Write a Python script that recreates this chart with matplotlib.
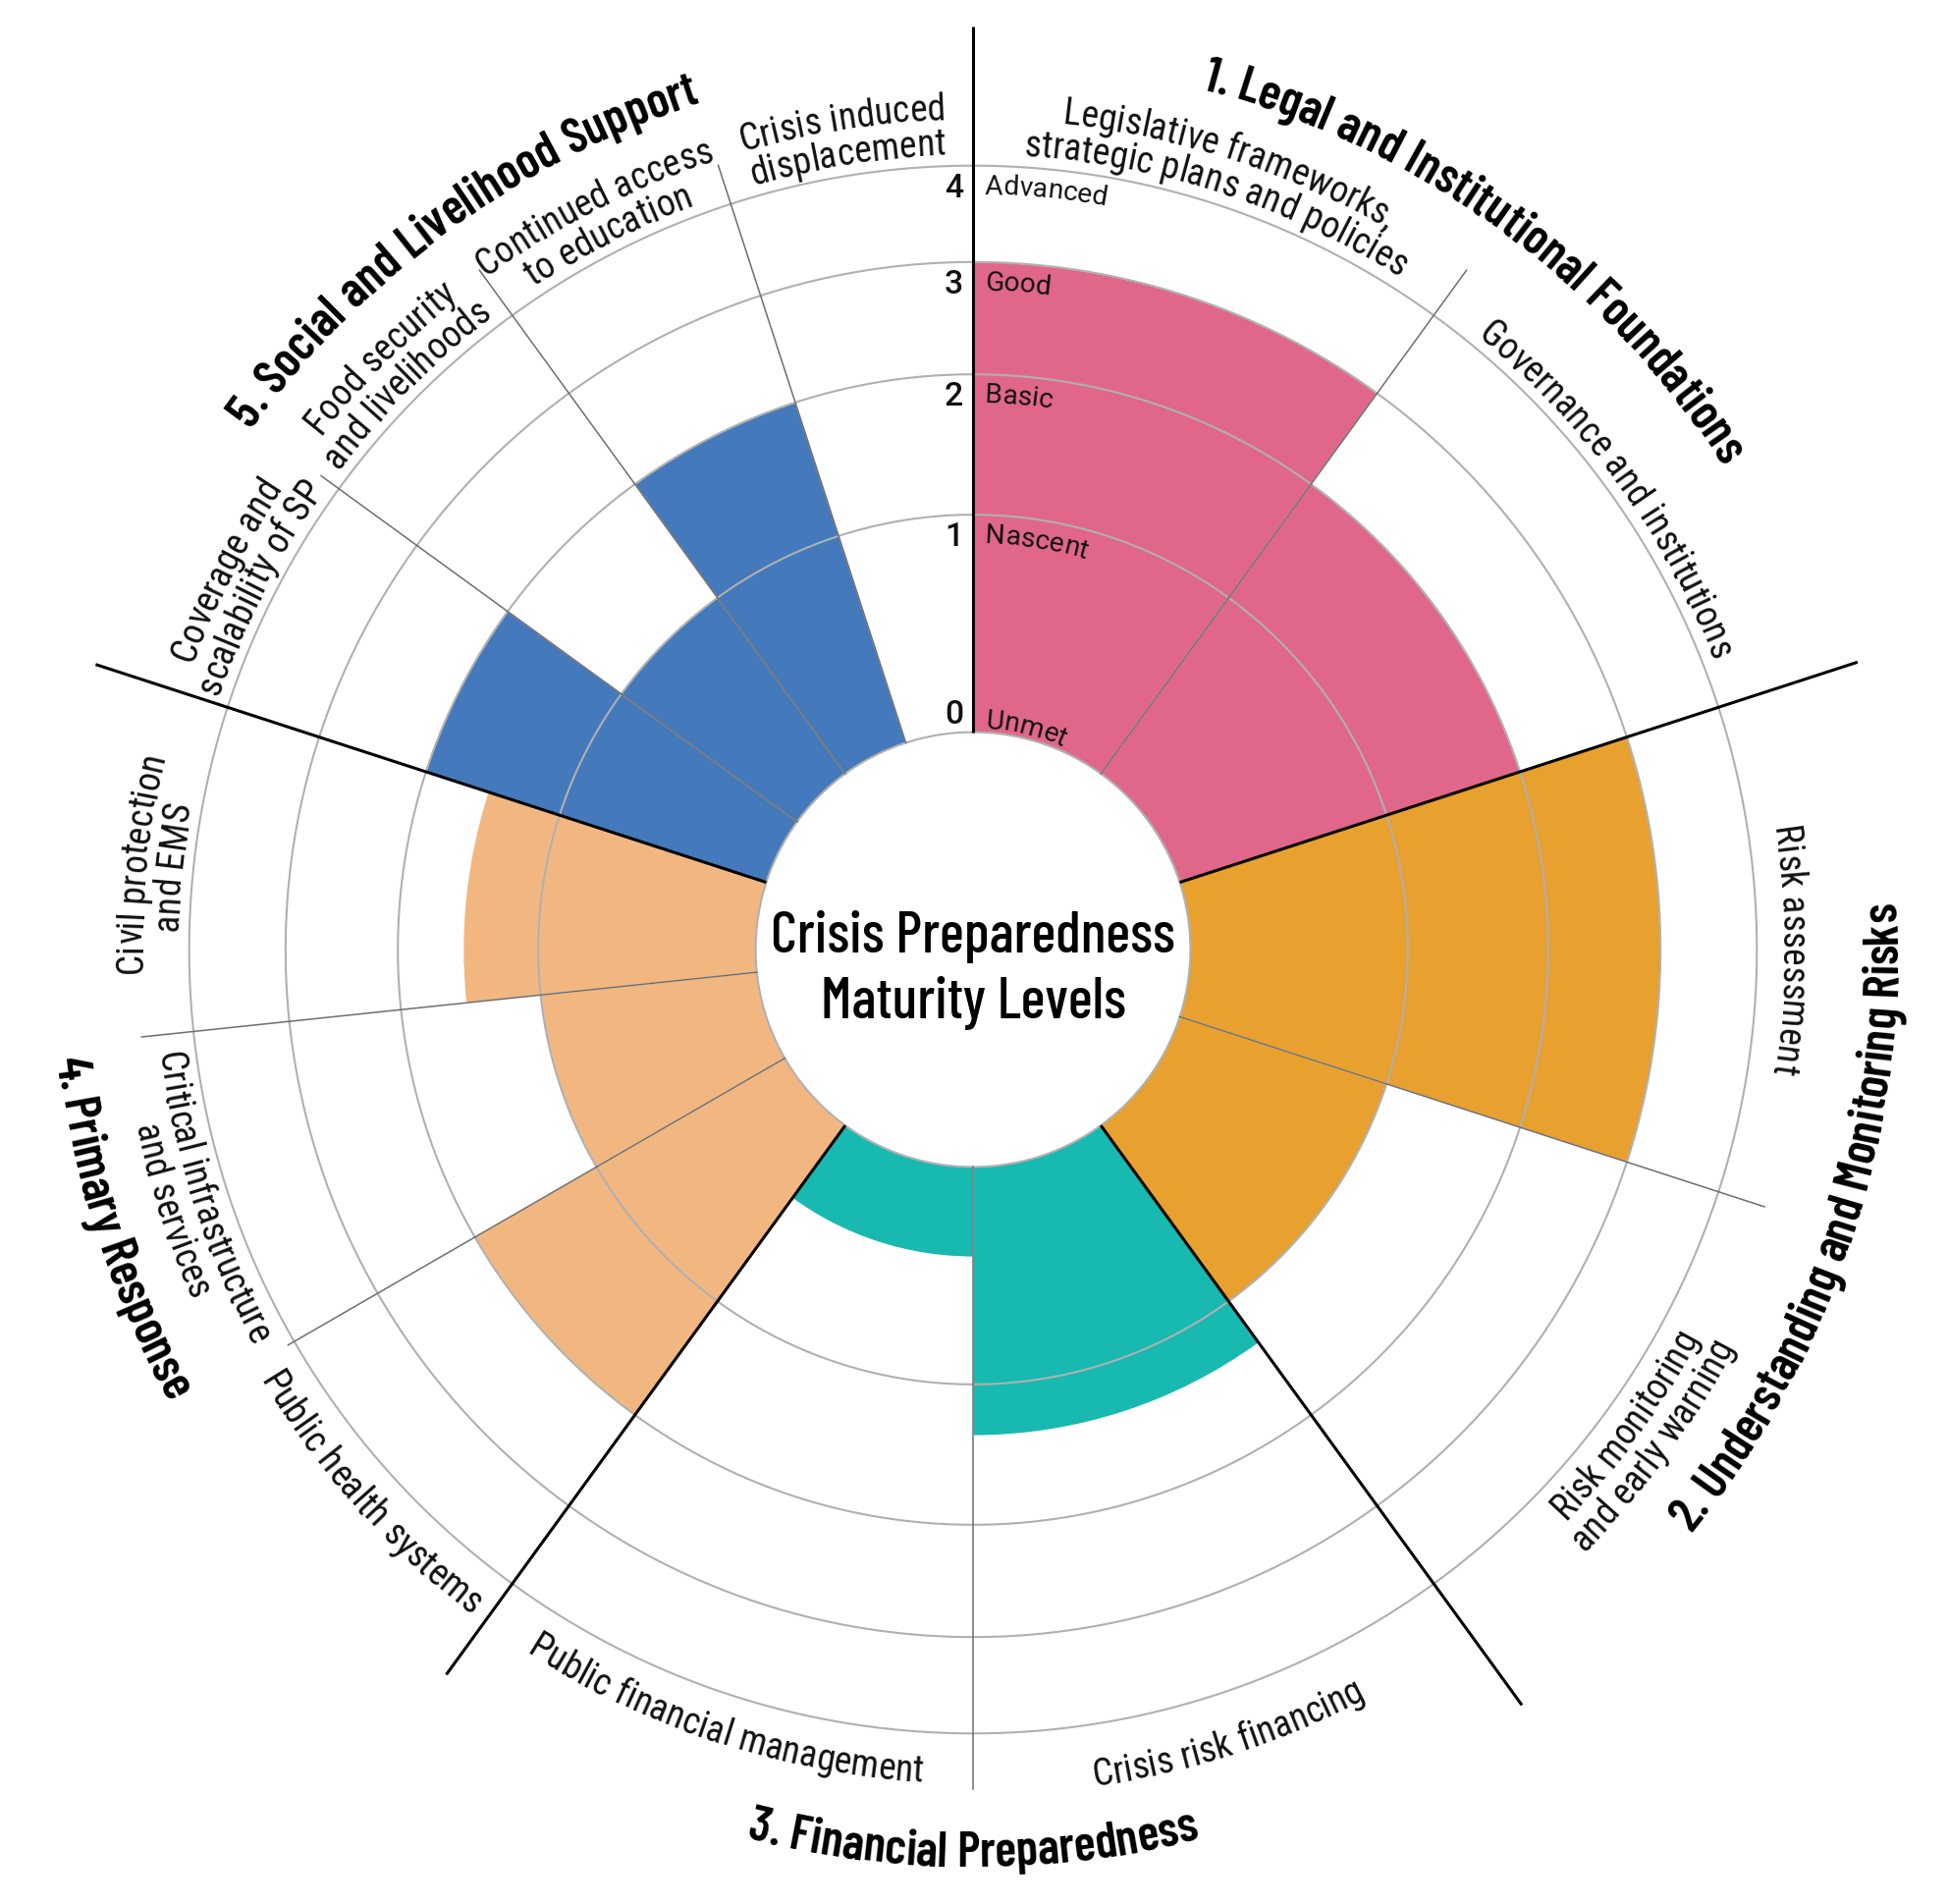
import numpy as np
import matplotlib
matplotlib.use('Agg')
import matplotlib.pyplot as plt
from matplotlib import font_manager as fm
from matplotlib.textpath import TextPath
from matplotlib.transforms import offset_copy

#--------------------#
# DATA
pillar_names = ['1. Legal and Institutional Foundations',
                '2. Understanding and Monitoring Risks',
                '3. Financial Preparedness',
                '4. Primary Response',
                '5. Social and Livelihood Support']
pillar_colors = ['#E0678A', '#E8A02E', '#17B9B0', '#F2B781', '#4479BB']

indicator_names = ['Legislative frameworks,\nstrategic plans and policies',
                   'Governance and institutions',
                   'Risk assessment',
                   'Risk monitoring\nand early warning',
                   'Crisis risk financing',
                   'Public financial management',
                   'Public health systems',
                   'Critical infrastructure\nand services',
                   'Civil protection\nand EMS',
                   'Coverage and\nscalability of SP',
                   'Food security\nand livelihoods',
                   'Continued access\nto education',
                   'Crisis induced\ndisplacement']
indicator_pillar = [0, 0, 1, 1, 2, 2, 3, 3, 3, 4, 4, 4, 4]
scores = [3, 2, 3, 1, 4/3, 1/3, 2, 1, 1.5, 2, 1, 2, 0]

level_values = [0, 1, 2, 3, 4]
level_names = ['Unmet', 'Nascent', 'Basic', 'Good', 'Advanced']
center_title = 'Crisis Preparedness\nMaturity Levels'

#--------------------#
# FONTS
DPI = 100
avail = {f.name for f in fm.fontManager.ttflist}


def make_fp(family, weight, size, stretch='condensed'):
    return fm.FontProperties(family=family, weight=weight, stretch=stretch, size=size)


def advances(s, fp):
    font = fm.get_font(fm.findfont(fp))
    font.set_size(fp.get_size_in_points(), DPI)
    return [font.load_char(ord(c)).linearHoriAdvance / 65536 for c in s]


def fit_size(s, fp, target_px):
    # font size (pt) that makes s about target_px wide
    w = sum(advances(s, fp))
    return fp.get_size_in_points() * target_px / w


def cap_ratio(fp):
    return TextPath((0, 0), 'H', size=100, prop=fp).get_extents().height / 100


def best_font(cands, weight, s, width_px, cap_px, stretch='condensed'):
    # pick the installed family whose cap height is closest once s is width_px wide
    best, err = None, None
    for fam in cands:
        if fam not in avail:
            continue
        fp = make_fp(fam, weight, 10, stretch)
        fp.set_size(fit_size(s, fp, width_px))
        cap = cap_ratio(fp) * fp.get_size_in_points() * DPI / 72
        if best is None or abs(cap - cap_px) < err:
            best, err = fp, abs(cap - cap_px)
    if best is None:
        best = make_fp('DejaVu Sans', weight, 10, 'normal')
        best.set_size(fit_size(s, best, width_px))
    return best


cond_cands = ['Barlow Condensed', 'Sofia Sans Extra Condensed', 'Fira Sans Extra Condensed',
              'Roboto Condensed', 'Sofia Sans Condensed', 'Barlow Semi Condensed']
fp_title = best_font(cond_cands, 600, pillar_names[0], 670, 36)
fp_center = make_fp(fp_title.get_family()[0], 500, 10)
fp_center.set_size(fit_size('Crisis Preparedness', fp_center, 412))
fp_level = best_font(['Barlow', 'Barlow Semi Condensed', 'Roboto', 'Roboto Condensed', 'Inter', 'Lato'],
                     400, 'Advanced', 124, 20, stretch='normal')

LABEL_FAMILY = 'Roboto Condensed' if 'Roboto Condensed' in avail else 'DejaVu Sans'
fp_label = make_fp(LABEL_FAMILY, 400, 10)
fp_label.set_size(fit_size('Public financial management', fp_label, 430))

fp_num = make_fp(fp_level.get_family()[0], 500, 10, stretch='normal')
fp_num.set_size(24 / cap_ratio(fp_num) * 72 / DPI)

#--------------------#
# GEOMETRY
def rad(v):
    # area-like radial scale with a hole in the middle
    return np.sqrt(np.asarray(v, dtype=float) + 1/3)


PX = 383.5          # pixels per radial unit
R = 2.6
cx, cy = 991, 968   # centre of the wheel (pixels from top-left)
W, H = 1984, 1940

n_per = np.bincount(indicator_pillar)
widths = np.array([72.0 / n_per[p] for p in indicator_pillar])
edges = np.concatenate([[0], np.cumsum(widths)])
mids = edges[:-1] + widths / 2

fig = plt.figure(figsize=(W / DPI, H / DPI), dpi=DPI)
ax = fig.add_axes([(cx - R * PX) / W, (H - cy - R * PX) / H, 2 * R * PX / W, 2 * R * PX / H],
                  projection='polar')
ax.set_theta_zero_location('N')
ax.set_theta_direction(-1)
ax.set_ylim(0, R)
ax.axis('off')

#--------------------#
# BARS
bar_colors = [pillar_colors[p] for p in indicator_pillar]
ax.bar(np.radians(mids), rad(scores) - rad(0), width=np.radians(widths), bottom=rad(0),
       color=bar_colors, edgecolor='white', linewidth=0.8, zorder=2)

# rings for each maturity level
th = np.linspace(0, 2 * np.pi, 721)
for v in level_values:
    ax.plot(th, np.full_like(th, rad(v)), color='#b0b0b0', lw=1.5, zorder=3)

# thin dividers between indicators, thick ones between pillars
pillar_edges = [0, 72, 144, 216, 288]
pillar_len = [2.45, 2.47, 2.48, 2.38, 2.45]
inner_edges = [36, 108, 180, 240, 264, 306, 324, 342]
inner_len = [2.23, 2.21, 2.23, 2.10, 2.22, 2.14, 2.23, 2.19]
for e, L in zip(inner_edges, inner_len):
    ax.plot([np.radians(e)] * 2, [rad(0), L], color='#6e6e6e', lw=1.1, zorder=3.5,
            clip_on=False)
for e, L in zip(pillar_edges, pillar_len):
    ax.plot([np.radians(e)] * 2, [rad(0), L], color='black', lw=2.2, zorder=4,
            clip_on=False, solid_capstyle='butt')

#--------------------#
# CURVED TEXT
def arc_text(s, theta, r_mid, fp, flip=False, align='center', color='#111111'):
    adv = advances(s, fp)
    em = fp.get_size_in_points() * DPI / 72
    half = 0.33 * em / PX
    r_base = r_mid + half if flip else r_mid - half
    rpx = r_base * PX
    span = np.degrees(sum(adv) / rpx)
    step = -1 if flip else 1
    start = theta - step * span / 2 if align == 'center' else theta
    pos = 0.0
    for c, a in zip(s, adv):
        t = start + step * np.degrees((pos + a / 2) / rpx)
        pos += a
        if c == ' ':
            continue
        rot = (180 - t) if flip else -t
        ax.text(np.radians(t), r_base, c, fontproperties=fp, color=color,
                rotation=rot, rotation_mode='anchor', ha='center', va='baseline',
                clip_on=False, zorder=6)


def is_flipped(t):
    return 90 < (t % 360) < 270


# pillar titles
pillar_mid = [36, 108, 180, 252, 324]
pillar_r = [2.41, 2.41, 2.39, 2.41, 2.41]
for name, t, r in zip(pillar_names, pillar_mid, pillar_r):
    arc_text(name, t, r, fp_title, flip=is_flipped(t), color='black')

# indicator labels
LS = 36 / PX
single_r = {1: 2.14, 2: 2.18, 4: 2.21, 5: 2.18, 6: 2.18}
for i, (name, t) in enumerate(zip(indicator_names, mids)):
    lines = name.split('\n')
    flip = is_flipped(t)
    if len(lines) == 1:
        r0 = single_r.get(i, 2.18)
    else:
        r0 = 2.151 if flip else 2.24
    for j, ln in enumerate(lines):
        r = r0 + j * LS if flip else r0 - j * LS
        arc_text(ln, t, r, fp_label, flip=flip)

# level numbers and names along the top spoke
em_lv = fp_level.get_size_in_points() * DPI / 72
cap_lv = cap_ratio(fp_level) * em_lv
for v, nm in zip(level_values, level_names):
    rv = float(rad(v))
    if v == 0:
        tr = offset_copy(ax.transData, fig=fig, x=-10, y=3, units='dots')
        ax.text(0, rv, str(v), fontproperties=fp_num, ha='right', va='bottom',
                transform=tr, zorder=6, color='#111111')
        r_base = rv + 5 / PX
    else:
        tr = offset_copy(ax.transData, fig=fig, x=-10, y=-6, units='dots')
        ax.text(0, rv, str(v), fontproperties=fp_num, ha='right', va='top',
                transform=tr, zorder=6, color='#111111')
        r_base = rv - (8 + cap_lv) / PX
    r_mid = r_base + 0.33 * em_lv / PX
    arc_text(nm, np.degrees(12 / (r_base * PX)), r_mid, fp_level, align='left')

# centre title
cap_c = cap_ratio(fp_center) * fp_center.get_size_in_points() * DPI / 72
for k, ln in enumerate(center_title.split('\n')):
    y_mid = 19 - k * 66
    tr = offset_copy(ax.transData, fig=fig, x=0, y=y_mid - cap_c / 2, units='dots')
    ax.text(0, 0, ln, fontproperties=fp_center, ha='center', va='baseline',
            transform=tr, zorder=6, color='black')

fig.savefig('out.png', dpi=DPI)
